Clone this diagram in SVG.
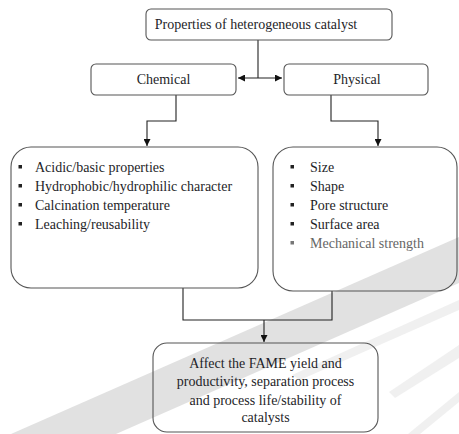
<svg xmlns="http://www.w3.org/2000/svg" width="459" height="434" viewBox="0 0 459 434">
<defs>
<style>
.box{fill:none;stroke:#555;stroke-width:1.1}
.t{font-family:"Liberation Serif","Times New Roman",Times,serif;font-size:14px;fill:#1e1e28}
.c{text-anchor:middle}
.ln{fill:none;stroke:#222;stroke-width:1.1}
.wm{fill:#d4d4d4}
.bul{fill:#222}
</style>
<marker id="ah" viewBox="0 0 10 10" refX="10" refY="5" markerWidth="7" markerHeight="7" orient="auto-start-reverse" markerUnits="userSpaceOnUse">
<path d="M0,0 L10,5 L0,10 z" fill="#111"/>
</marker>
</defs>
<rect width="459" height="434" fill="#fff"/>
<g id="watermark">
<polygon class="wm" points="459,237 459,283 116,434 11,434" opacity="0.7"/>
<polygon class="wm" points="459,300 459,310 300,380 292,375" opacity="0.35"/>
<polygon class="wm" points="459,345 459,358 395,398 389,392" opacity="0.35"/>
<polygon class="wm" points="459,392 459,402 420,434 408,434" opacity="0.35"/>
</g>
<g id="connectors">
<line class="ln" x1="258" y1="40" x2="258" y2="78"/>
<line class="ln" x1="238" y1="78" x2="282" y2="78" marker-start="url(#ah)" marker-end="url(#ah)"/>
<polyline class="ln" points="176,95 176,121 147,121 147,146" marker-end="url(#ah)"/>
<polyline class="ln" points="331,95 331,121 378,121 378,146" marker-end="url(#ah)"/>
<polyline class="ln" points="183,288 183,320 332,320 332,291"/>
<line class="ln" x1="264" y1="320" x2="264" y2="342" marker-end="url(#ah)"/>
</g>
<g font-family="Liberation Serif, Times New Roman, serif">
<g id="root">
<rect class="box" x="146" y="9" width="246" height="31" rx="5"/>
<text class="t c" x="256" y="28.5">Properties of heterogeneous catalyst</text>
</g>
<g id="chemical">
<rect class="box" x="91" y="64" width="145" height="31" rx="5"/>
<text class="t c" x="163.5" y="84">Chemical</text>
</g>
<g id="physical">
<rect class="box" x="284" y="64" width="144" height="31" rx="5"/>
<text class="t c" x="357" y="84">Physical</text>
</g>
<g id="chemical-list">
<rect class="box" x="11" y="147" width="247" height="141" rx="20"/>
<rect class="bul" x="18.5" y="165" width="3.5" height="3.5"/>
<rect class="bul" x="18.5" y="184" width="3.5" height="3.5"/>
<rect class="bul" x="18.5" y="203" width="3.5" height="3.5"/>
<rect class="bul" x="18.5" y="222" width="3.5" height="3.5"/>
<text class="t" x="35" y="171.5">Acidic/basic properties</text>
<text class="t" x="35" y="190.5">Hydrophobic/hydrophilic character</text>
<text class="t" x="35" y="209.5">Calcination temperature</text>
<text class="t" x="35" y="228.5">Leaching/reusability</text>
</g>
<g id="physical-list">
<rect class="box" x="273" y="147" width="184" height="144" rx="20"/>
<rect class="bul" x="290.5" y="165" width="3.5" height="3.5"/>
<rect class="bul" x="290.5" y="184" width="3.5" height="3.5"/>
<rect class="bul" x="290.5" y="203" width="3.5" height="3.5"/>
<rect class="bul" x="290.5" y="222" width="3.5" height="3.5"/>
<rect class="bul" x="290.5" y="241" width="3.5" height="3.5" style="fill:#777"/>
<text class="t" x="310" y="171.5">Size</text>
<text class="t" x="310" y="190.5">Shape</text>
<text class="t" x="310" y="209.5">Pore structure</text>
<text class="t" x="310" y="228.5">Surface area</text>
<text class="t" x="310" y="247.5" style="fill:#666">Mechanical strength</text>
</g>
<g id="effect">
<rect class="box" x="153" y="343" width="225" height="89" rx="14"/>
<text class="t c" x="265.5" y="367.5">Affect the FAME yield and</text>
<text class="t c" x="265.5" y="386">productivity, separation process</text>
<text class="t c" x="265.5" y="404.5">and process life/stability of</text>
<text class="t c" x="265.5" y="422">catalysts</text>
</g>
</g>
</svg>
